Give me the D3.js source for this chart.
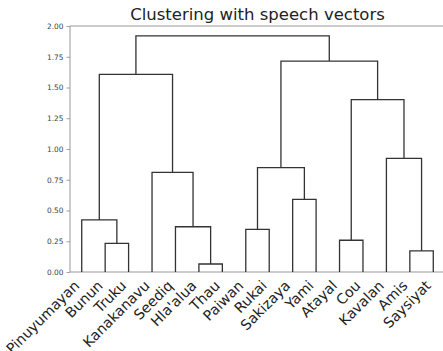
<!DOCTYPE html>
<html>
<head>
<meta charset="utf-8">
<script src="https://cdn.jsdelivr.net/npm/d3@7"></script>
<style>
  html, body { margin: 0; padding: 0; background: #fff; }
  svg { display: block; font-family: "DejaVu Sans", sans-serif; }
</style>
</head>
<body>
<svg id="chart" width="443" height="351"></svg>
<script>
// Leaf labels in dendrogram order
const leaves = ["Pinuyumayan", "Bunun", "Truku", "Kanakanavu", "Seediq", "Hla'alua", "Thau",
  "Paiwan", "Rukai", "Sakizaya", "Yami", "Atayal", "Cou", "Kavalan", "Amis", "Saysiyat"];

// Linkage: each merge joins two cluster ids (leaves are 0..15, merges get 16, 17, ...)
const mergeLeft  = [5, 14, 1, 11, 7, 4, 0, 9, 3, 20, 13, 19, 22, 25, 28];
const mergeRight = [6, 15, 2, 12, 8, 16, 18, 10, 21, 23, 17, 26, 24, 27, 29];
const mergeHeight = [0.065, 0.171, 0.233, 0.258, 0.347, 0.368, 0.423, 0.591,
  0.81, 0.848, 0.924, 1.401, 1.607, 1.715, 1.919];

const yTicks = [0, 0.25, 0.5, 0.75, 1.0, 1.25, 1.5, 1.75, 2.0];

const svg = d3.select("#chart");
const margin = { left: 70, top: 26, bottom: 272 };

// scipy-style coordinates: leaf i sits at 5 + 10*i
const x = d3.scaleLinear().domain([0, leaves.length * 10]).range([70, 445]);
const y = d3.scaleLinear().domain([0, 2]).range([margin.bottom, margin.top]);

// Build nested tree from the linkage
const nodes = leaves.map((name, i) => ({ name, height: 0, pos: 5 + 10 * i }));
mergeLeft.forEach((a, k) => {
  const l = nodes[a], r = nodes[mergeRight[k]];
  nodes.push({ children: [l, r], height: mergeHeight[k], pos: (l.pos + r.pos) / 2 });
});
const root = d3.hierarchy(nodes[nodes.length - 1]);

// Axes frame: left, top and bottom spines
const spine = "#8c8c8c";
svg.append("line").attr("x1", 70).attr("x2", 70).attr("y1", y(2)).attr("y2", y(0))
  .attr("stroke", spine).attr("stroke-width", 0.9);
svg.append("line").attr("x1", 70).attr("x2", 445).attr("y1", y(2)).attr("y2", y(2))
  .attr("stroke", spine).attr("stroke-width", 0.9);
svg.append("line").attr("x1", 70).attr("x2", 445).attr("y1", y(0)).attr("y2", y(0))
  .attr("stroke", spine).attr("stroke-width", 0.9);

// Y axis
const yAxis = d3.axisLeft(y).tickValues(yTicks).tickFormat(d3.format(".2f"))
  .tickSizeInner(3.5).tickSizeOuter(0).tickPadding(3);
const gy = svg.append("g").attr("transform", "translate(70,0)").call(yAxis);
gy.select(".domain").remove();
gy.selectAll(".tick line").attr("stroke", spine).attr("stroke-width", 0.8);
gy.selectAll(".tick text").attr("fill", "#444").style("font-size", "7.4px")
  .style("font-family", "DejaVu Sans, sans-serif");

// Dendrogram links
const g = svg.append("g");
root.descendants().filter(d => d.children).forEach(d => {
  const [l, r] = d.children;
  const p = d3.path();
  p.moveTo(x(l.data.pos), y(l.data.height));
  p.lineTo(x(l.data.pos), y(d.data.height));
  p.lineTo(x(r.data.pos), y(d.data.height));
  p.lineTo(x(r.data.pos), y(r.data.height));
  g.append("path").attr("d", p.toString()).attr("fill", "none")
    .attr("stroke", "#333").attr("stroke-width", 1.3);
});

// Leaf labels, rotated 45 degrees and right-aligned at the tick
svg.append("g").selectAll("text").data(leaves).join("text")
  .attr("transform", (d, i) => `translate(${x(5 + 10 * i) - 5},${y(0) + 11}) rotate(-45)`)
  .attr("text-anchor", "end")
  .attr("dy", "0.35em")
  .attr("fill", "#222")
  .style("font-size", "14.2px")
  .text(d => d);

// Title
svg.append("text").attr("x", 257.5).attr("y", 20).attr("text-anchor", "middle")
  .attr("fill", "#222").style("font-size", "16.5px")
  .text("Clustering with speech vectors");
</script>
</body>
</html>
